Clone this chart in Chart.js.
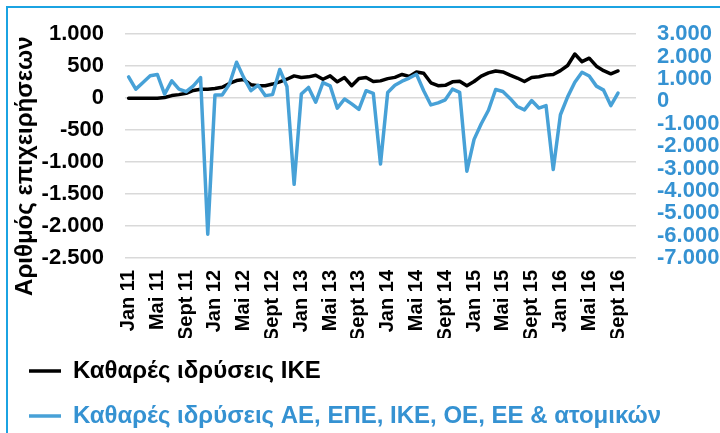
<!DOCTYPE html>
<html>
<head>
<meta charset="utf-8">
<script src="https://cdn.jsdelivr.net/npm/chart.js@4/dist/chart.umd.min.js"></script>
<style>
  html, body { margin: 0; padding: 0; background: #fff; width: 720px; height: 433px; overflow: hidden; }
  #frame { position: absolute; left: 6px; top: 6px; width: 800px; height: 500px;
           border-left: 2px solid #1ba3e2; border-top: 2px solid #1ba3e2; pointer-events: none; }
  canvas { position: absolute; left: 0; top: 0; }
</style>
</head>
<body>
<canvas id="chart" width="720" height="438"></canvas>
<div id="frame"></div>
<script>
// Monatsachse Jan 11 .. Nov 16 (die letzten zwei Monate ohne Werte)
const monthNames = ['Jan', 'Feb', 'Mär', 'Apr', 'Mai', 'Jun', 'Jul', 'Aug', 'Sept', 'Okt', 'Nov', 'Dez'];
const years = ['11', '12', '13', '14', '15', '16'];
const monthCount = 71;

// Καθαρές ιδρύσεις ΙΚΕ (αριστερός άξονας)
const ikeNet = [
  0, 0, 0, 0, 0, 10, 40, 55, 75, 120, 140, 140,
  150, 170, 230, 275, 290, 210, 195, 195, 220, 255, 296, 348,
  322, 333, 358, 296, 348, 255, 322, 194, 307, 322, 260, 270,
  305, 325, 370, 340, 410, 390, 240, 194, 200, 255, 265, 194,
  260, 345, 395, 425, 410, 360, 315, 260, 322, 335, 360, 369,
  430, 510, 690, 570, 625, 500, 430, 380, 425
];

// Καθαρές ιδρύσεις ΑΕ, ΕΠΕ, ΙΚΕ, ΟΕ, ΕΕ & ατομικών (δεξιός άξονας)
const allNet = [
  1090, 545, 840, 1140, 1200, 325, 915, 545, 430, 695, 1060, -5940,
  280, 280, 765, 1750, 1060, 475, 720, 255, 300, 1425, 665, -3710,
  325, 620, -40, 840, 695, -305, 105, -115, -360, 475, 355, -2800,
  400, 720, 900, 1040, 1210, 475, -160, -70, 70, 545, 400, -3120,
  -1700, -1000, -400, 530, 440, 130, -230, -380, 35, -300, -190, -3050,
  -600, 200, 850, 1300, 1135, 680, 500, -190, 370
];

const seriesLabels = ['Καθαρές ιδρύσεις ΙΚΕ', 'Καθαρές ιδρύσεις ΑΕ, ΕΠΕ, ΙΚΕ, ΟΕ, ΕΕ & ατομικών'];
const leftAxis = { min: -2500, max: 1000, step: 500 };
const rightAxis = { min: -7000, max: 3000, step: 1000 };

const BLUE_LINE = '#47a1d7';
const BLUE_TEXT = '#3592d2';
const FONT = "'Liberation Sans', Arial, sans-serif";

const categories = [];
for (let i = 0; i < monthCount; i++) {
  categories.push(monthNames[i % 12] + ' ' + years[Math.floor(i / 12)]);
}

/** Tausenderpunkt wie im Original (1.000, -2.500) */
function formatNumber(v) {
  const s = Math.abs(v).toString().replace(/\B(?=(\d{3})+(?!\d))/g, '.');
  return (v < 0 ? '-' : '') + s;
}

const ctx = document.getElementById('chart').getContext('2d');

new Chart(ctx, {
  type: 'line',
  data: {
    labels: categories,
    datasets: [
      { label: seriesLabels[0], data: ikeNet, yAxisID: 'y', borderColor: '#000000', backgroundColor: '#000000',
        borderWidth: 3.5, pointRadius: 0, tension: 0, borderJoinStyle: 'round', borderCapStyle: 'round', order: 2 },
      { label: seriesLabels[1], data: allNet, yAxisID: 'y2', borderColor: BLUE_LINE, backgroundColor: BLUE_LINE,
        borderWidth: 3.5, pointRadius: 0, tension: 0, borderJoinStyle: 'round', borderCapStyle: 'round', order: 1 }
    ]
  },
  options: {
    responsive: false,
    animation: false,
    layout: { padding: { left: 8, top: 31, right: 0, bottom: 0 } },
    plugins: {
      tooltip: { enabled: false },
      legend: {
        position: 'bottom',
        align: 'start',
        labels: {
          font: { family: FONT, size: 24, weight: 'bold' },
          padding: 21,
          usePointStyle: true,
          pointStyleWidth: 32,
          // eigene Reihenfolge + Textfarbe je Serie
          generateLabels: chart => chart.data.datasets.map((ds, i) => ({
            text: ds.label,
            fontColor: i === 0 ? '#000000' : BLUE_TEXT,
            strokeStyle: ds.borderColor,
            fillStyle: ds.borderColor,
            lineWidth: 3.5,
            pointStyle: 'line',
            hidden: false,
            datasetIndex: i
          }))
        }
      }
    },
    scales: {
      x: {
        offset: true,
        grid: { display: false, drawTicks: false },
        border: { display: false },
        ticks: {
          autoSkip: false,
          minRotation: 90,
          maxRotation: 90,
          padding: 12,
          color: '#000000',
          font: { family: FONT, size: 20, weight: 'bold' },
          callback: function (v, i) { return i % 4 === 0 ? this.getLabelForValue(v) : ''; }
        },
        afterFit: scale => { scale.height = 80; }
      },
      y: {
        position: 'left',
        min: leftAxis.min,
        max: leftAxis.max,
        grid: { color: '#d9d9d9', lineWidth: 1.5, drawTicks: false },
        border: { display: false },
        ticks: {
          stepSize: leftAxis.step,
          autoSkip: false,
          padding: 21,
          color: '#000000',
          font: { family: FONT, size: 22, weight: 'bold' },
          callback: v => formatNumber(v)
        },
        title: {
          display: true,
          text: 'Αριθμός επιχειρήσεων      ',
          color: '#000000',
          font: { family: FONT, size: 24, weight: 'bold' },
          padding: { top: 3, bottom: 0 }
        },
        afterFit: scale => { scale.width = 117; }
      },
      y2: {
        position: 'right',
        min: rightAxis.min,
        max: rightAxis.max,
        grid: { display: false, drawTicks: false },
        border: { display: false },
        ticks: {
          stepSize: rightAxis.step,
          autoSkip: false,
          padding: 21,
          color: BLUE_TEXT,
          font: { family: FONT, size: 22, weight: 'bold' },
          callback: v => formatNumber(v)
        },
        afterFit: scale => { scale.width = 84; }
      }
    }
  }
});
</script>
</body>
</html>
